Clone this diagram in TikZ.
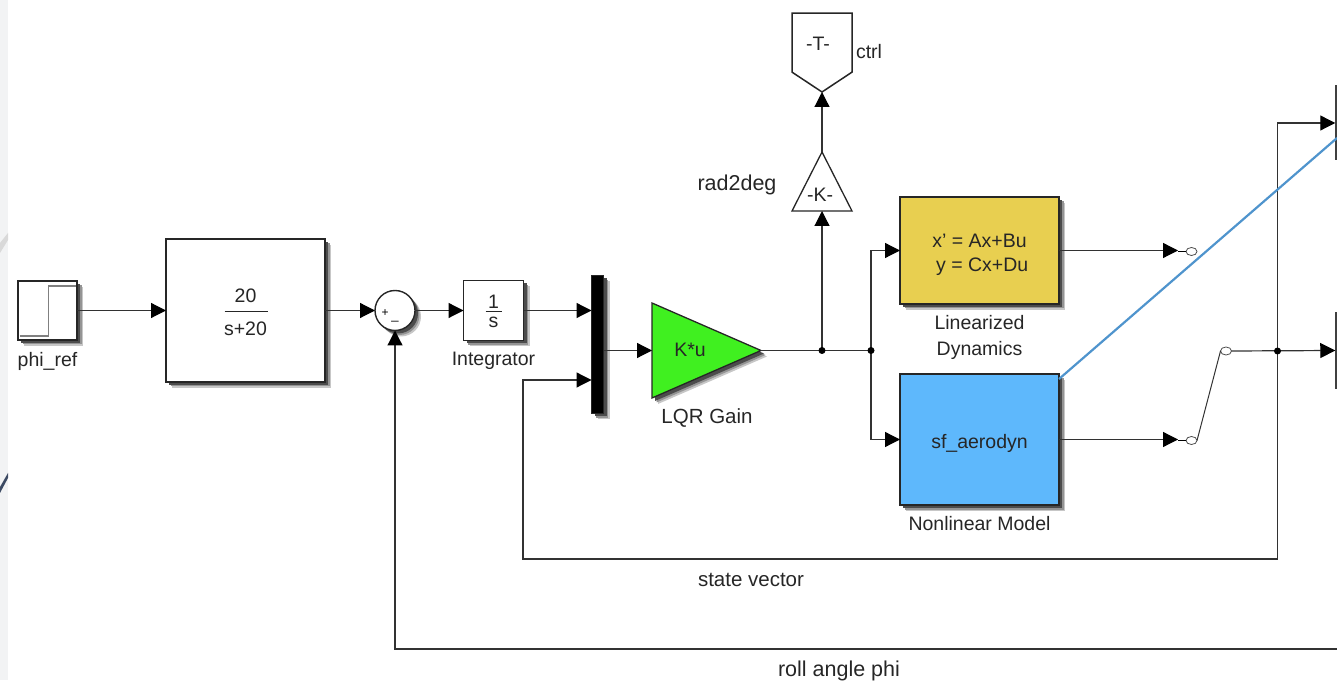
\documentclass[tikz,border=0pt]{standalone}
\usepackage{fontspec}
\setmainfont{Liberation Sans}
\usetikzlibrary{shapes.geometric, shapes.symbols, arrows.meta, positioning, calc, backgrounds}
\definecolor{cYellow}{RGB}{232,207,80}
\definecolor{cBlue}{RGB}{94,184,252}
\definecolor{cGain}{RGB}{64,240,32}
\definecolor{cWire}{RGB}{50,50,50}
\definecolor{cDiag}{RGB}{79,148,205}
\definecolor{cStrip}{RGB}{242,243,244}
\definecolor{cSlate}{RGB}{60,74,99}
\tikzset{
	blk/.style   ={rectangle, draw=black!85, line width=1.5pt, inner sep=0pt, outer sep=0pt, fill=white},
	sumj/.style  ={circle, draw=black!85, line width=1.4pt, minimum size=40pt, inner sep=0pt, outer sep=0pt, fill=white},
	gain/.style  ={isosceles triangle, isosceles triangle stretches, draw=black!85, line width=1.3pt, inner sep=0pt, outer sep=0pt, fill=white},
	port/.style  ={ellipse, draw=black!70, line width=0.8pt, fill=white, minimum width=11pt, minimum height=8pt, inner sep=0pt, outer sep=0pt},
	edgebar/.style={rectangle, fill=black!75, minimum width=1.5pt, inner sep=0pt, outer sep=0pt},
	lbl/.style   ={font=\fontsize{19.5}{21}\selectfont, text=black!85, inner sep=0pt},
	widelbl/.style={lbl, font=\fontsize{21.5}{23}\selectfont},
	midlbl/.style={lbl, font=\fontsize{20.5}{22}\selectfont},
	sig/.style   ={-{Triangle[length=15pt, width=15pt, color=black]}, line width=1.2pt, draw=cWire},
	wire/.style  ={line width=1.2pt, draw=cWire},
}
\begin{document}
\begin{tikzpicture}[x=1pt, y=1pt]
	\useasboundingbox (0,0) rectangle (1337,680);
	\fill[cStrip] (0,0) rectangle (8,680);
	\fill[black!15] (0,427) -- (0,437) -- (8,447) -- (8,440) -- cycle;
	\fill[cSlate] (0,187) -- (0,193) -- (8,207) -- (8,202) -- cycle;

	\node[blk, minimum width=59pt, minimum height=59pt] (step) at (47.5,369.5){};
	\node[blk, minimum width=159pt, minimum height=143pt, right=89pt of step] (tf){};
	\node[sumj, right=50pt of tf] (sum){};
	\node[blk, minimum width=60pt, minimum height=60pt, right=48.5pt of sum] (integ){};
	\node[blk, fill=black, minimum width=12pt, minimum height=138pt, right=68pt of integ, yshift=-34pt] (mux){};
	\node[gain, fill=cGain, isosceles triangle apex angle=47, minimum width=95pt, minimum height=109pt, right=48.5pt of mux, yshift=-6pt] (lqr){};
	\coordinate[right=61pt of lqr.apex] (j1);
	\coordinate[right=49pt of j1] (j2);
	\node[gain, shape border rotate=90, isosceles triangle apex angle=54, minimum width=60pt, minimum height=59pt, above=139.5pt of j1] (kgain){};
	\node[signal, signal to=south, signal from=nowhere, signal pointer angle=113, draw=black!85, line width=1.5pt, inner sep=0pt, outer sep=0pt, minimum width=60pt, minimum height=59pt, above=60pt of kgain.apex] (goto){};
	\node[blk, fill=cYellow, minimum width=159pt, minimum height=107pt, right=29pt of j2, yshift=100pt] (lin){};
	\node[blk, fill=cBlue, minimum width=159pt, minimum height=131pt, below=70pt of lin] (nonlin){};
	\node[port, right=127pt of lin, yshift=-1pt] (sw1){};
	\node[port, right=127pt of nonlin, yshift=-1pt] (sw2){};
	\node[port] (sw3) at (1226,329){};
	\node[edgebar, minimum height=75pt] (out1) at (1336,557.5){};
	\node[edgebar, minimum height=77pt] (out2) at (1336,329.5){};
	\coordinate (statecorner) at (1277.5,121);
	\coordinate (muxcorner) at (523,121);
	\coordinate (rollend) at (1337,31);
	\coordinate (rollcorner) at (395,31);
	\coordinate (diagend) at (1337,542);

	% shadows
	\begin{scope}[on background layer]
		\foreach \o/\c in {6/22, 4.5/42, 3/70}{
			\foreach \b in {step, tf, integ, mux, lin, nonlin}
				\fill[black!\c] ($(\b.south west)+(\o,-\o)$) rectangle ($(\b.north east)+(\o,-\o)$);
			\fill[black!\c] ($(lqr.apex)+(\o,-\o)$) -- ($(lqr.left corner)+(\o,-\o)$) -- ($(lqr.right corner)+(\o,-\o)$) -- cycle;
			\fill[black!\c] ($(sum.center)+(\o,-\o)$) circle (20pt);
		}
	\end{scope}

	% block contents
	\draw[black!50, line width=1.2pt] ([shift={(1.5pt,4pt)}]step.south west) -- ++(29pt,0) |- ([shift={(-1.5pt,-5pt)}]step.north east);
	\node[lbl] at ([yshift=15pt]tf.center){20};
	\draw[black!85, line width=1pt] ([xshift=-21pt,yshift=-1pt]tf.center) -- ([xshift=22pt,yshift=-1pt]tf.center);
	\node[lbl] at ([yshift=-18pt]tf.center){s+20};
	\node[font=\fontsize{12}{12}\selectfont] at ([xshift=-10pt,yshift=-3pt]sum.center){+};
	\node[font=\fontsize{13}{13}\selectfont] at ([yshift=-10pt]sum.center){\_};
	\node[lbl] at ([yshift=9pt]integ.center){1};
	\draw[black!85, line width=1pt] ([xshift=-8pt,yshift=-1pt]integ.center) -- ([xshift=8pt,yshift=-1pt]integ.center);
	\node[lbl] at ([yshift=-12pt]integ.center){s};
	\node[lbl] at (690,330){K*u};
	\node[lbl] at (820,485){-K-};
	\node[lbl] at (818,636){-T-};
	\node[lbl, align=center] at ([yshift=-4.5pt]lin.center){x' = Ax+Bu\\[3pt]\ y = Cx+Du};
	\node[lbl] at ([yshift=-4pt]nonlin.center){sf\_aerodyn};

	% block labels
	\node[lbl, below=12pt of step] {phi\_ref};
	\node[lbl, below=11pt of integ] {Integrator};
	\node[midlbl] at (707,262){LQR Gain};
	\node[widelbl] at (737,495){rad2deg};
	\node[lbl] at (869,628){ctrl};
	\node[lbl, align=center] at (979.5,343){Linearized\\[5pt]Dynamics};
	\node[lbl, below=11pt of nonlin] {Nonlinear Model};
	\node[midlbl] at (751,100){state vector};
	\node[widelbl] at (839,9){roll angle phi};

	% signals
	\draw[sig] (step) -- (tf);
	\draw[sig] (tf) -- (sum);
	\draw[sig] (sum) -- (integ);
	\draw[sig] (integ.east) -- (integ.east -| mux.west);
	\draw[sig] (lqr.lower side -| mux.east) -- (lqr.lower side);
	\draw[wire] (lqr.apex) -- (j2);
	\draw[sig] (j1) -- (kgain.lower side);
	\draw[sig] (kgain.apex) -- (goto.south);
	\draw[sig] (j2) |- (lin.west);
	\draw[sig] (j2) |- (nonlin.west);
	\draw[sig] (lin.east) -- ([xshift=-8pt]lin.east -| sw1.west);
	\draw[sig] (nonlin.east) -- ([xshift=-8pt]nonlin.east -| sw2.west);
	\draw[line width=0.8pt] ([xshift=-8pt]sw1.west) -- (sw1.west);
	\draw[line width=0.8pt] ([xshift=-8pt]sw2.west) -- (sw2.west);
	\draw[line width=1pt, draw=black!80] (sw2.east) -- (sw3.west);
	\draw[sig] (sw3.east) -- (out2.west);
	\draw[sig] (statecorner) -- (1277.5,557) -- (out1.west |- 0,557);
	\draw[sig] (statecorner) -- (muxcorner) -- (523,300) -- (mux.west |- 0,300);
	\draw[sig] (rollend) -- (rollcorner) -- (sum.south);
	\fill[black] (j1) circle (3.5pt) (j2) circle (3.5pt) (1277.5,329) circle (3.5pt);
	\draw[cDiag, line width=2.2pt] ([yshift=-5pt]nonlin.north east) -- (diagend);
\end{tikzpicture}
\end{document}
